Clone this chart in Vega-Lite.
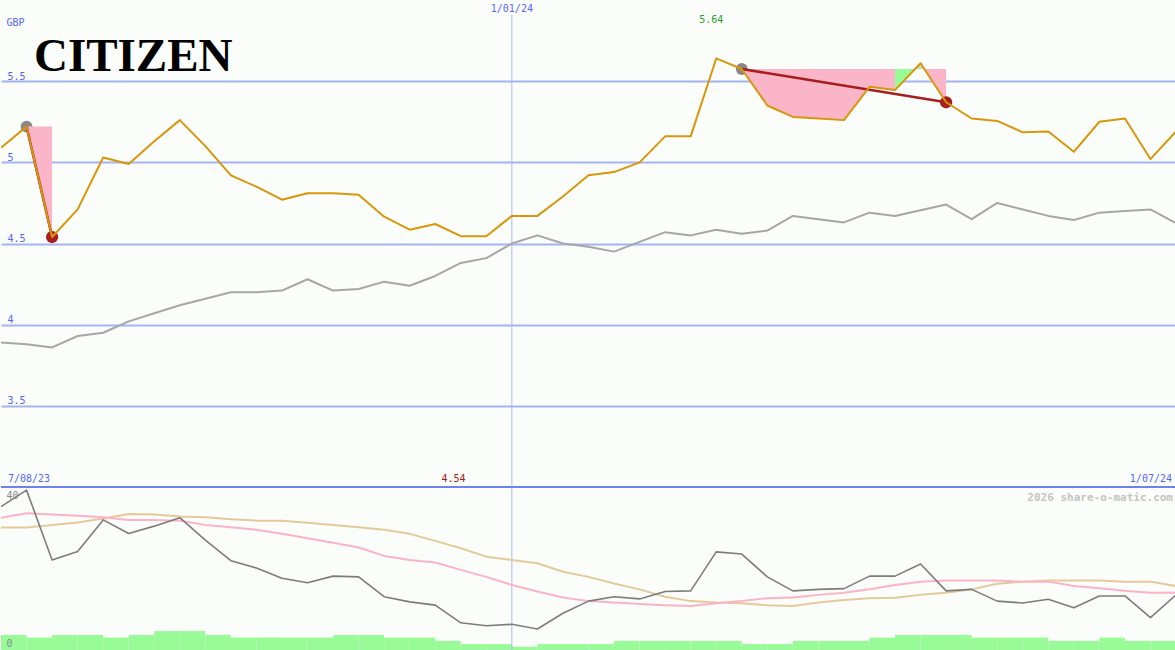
{
  "$schema": "https://vega.github.io/schema/vega-lite/v6.json",
  "background": "#fbfdfb",
  "padding": 0,
  "spacing": 0,
  "bounds": "flush",
  "config": {"view": {"stroke": null}, "concat": {"spacing": 0}, "line": {"strokeJoin": "round"}},
  "datasets": {
    "w": [
      {"d":"2023-08-14","e":"2023-08-21","p":5.09,"a":3.89,"o":39.0,"m1":36.0,"m2":33.3,"v":46},
      {"d":"2023-08-21","e":"2023-08-28","p":5.22,"a":3.88,"o":43.5,"m1":37.2,"m2":33.3,"v":38},
      {"d":"2023-08-28","e":"2023-09-04","p":4.54,"a":3.86,"o":24.5,"m1":36.9,"m2":34.0,"v":46},
      {"d":"2023-09-04","e":"2023-09-11","p":4.71,"a":3.93,"o":26.8,"m1":36.5,"m2":34.7,"v":46},
      {"d":"2023-09-11","e":"2023-09-18","p":5.03,"a":3.95,"o":35.4,"m1":36.1,"m2":35.8,"v":38},
      {"d":"2023-09-18","e":"2023-09-25","p":4.99,"a":4.02,"o":31.7,"m1":35.4,"m2":37.0,"v":46},
      {"d":"2023-09-25","e":"2023-10-02","p":5.13,"a":4.07,"o":33.7,"m1":35.4,"m2":36.9,"v":58},
      {"d":"2023-10-02","e":"2023-10-09","p":5.26,"a":4.12,"o":36.0,"m1":35.2,"m2":36.3,"v":58},
      {"d":"2023-10-09","e":"2023-10-16","p":5.10,"a":4.16,"o":29.9,"m1":34.0,"m2":36.1,"v":46},
      {"d":"2023-10-16","e":"2023-10-23","p":4.92,"a":4.20,"o":24.3,"m1":33.4,"m2":35.6,"v":38},
      {"d":"2023-10-23","e":"2023-10-30","p":4.85,"a":4.20,"o":22.3,"m1":32.7,"m2":35.2,"v":38},
      {"d":"2023-10-30","e":"2023-11-06","p":4.77,"a":4.21,"o":19.5,"m1":31.6,"m2":35.2,"v":38},
      {"d":"2023-11-06","e":"2023-11-13","p":4.81,"a":4.28,"o":18.3,"m1":30.4,"m2":34.6,"v":38},
      {"d":"2023-11-13","e":"2023-11-20","p":4.81,"a":4.21,"o":20.1,"m1":29.2,"m2":34.0,"v":46},
      {"d":"2023-11-20","e":"2023-11-27","p":4.80,"a":4.22,"o":19.9,"m1":27.9,"m2":33.4,"v":46},
      {"d":"2023-11-27","e":"2023-12-04","p":4.665,"a":4.265,"o":14.5,"m1":25.6,"m2":32.7,"v":38},
      {"d":"2023-12-04","e":"2023-12-11","p":4.585,"a":4.24,"o":13.1,"m1":24.5,"m2":31.6,"v":38},
      {"d":"2023-12-11","e":"2023-12-18","p":4.62,"a":4.30,"o":12.2,"m1":23.8,"m2":29.7,"v":28},
      {"d":"2023-12-18","e":"2023-12-25","p":4.545,"a":4.38,"o":7.4,"m1":21.8,"m2":27.7,"v":18},
      {"d":"2023-12-25","e":"2024-01-01","p":4.545,"a":4.41,"o":6.6,"m1":19.9,"m2":25.4,"v":18},
      {"d":"2024-01-01","e":"2024-01-08","p":4.67,"a":4.50,"o":7.0,"m1":17.7,"m2":24.5,"v":10},
      {"d":"2024-01-08","e":"2024-01-15","p":4.67,"a":4.55,"o":5.7,"m1":15.9,"m2":23.6,"v":18},
      {"d":"2024-01-15","e":"2024-01-22","p":4.79,"a":4.50,"o":10.0,"m1":14.3,"m2":21.3,"v":18},
      {"d":"2024-01-22","e":"2024-01-29","p":4.92,"a":4.48,"o":13.3,"m1":13.3,"m2":19.9,"v":18},
      {"d":"2024-01-29","e":"2024-02-05","p":4.94,"a":4.45,"o":14.5,"m1":12.9,"m2":18.1,"v":28},
      {"d":"2024-02-05","e":"2024-02-12","p":5.00,"a":4.51,"o":13.9,"m1":12.5,"m2":16.5,"v":28},
      {"d":"2024-02-12","e":"2024-02-19","p":5.16,"a":4.57,"o":15.9,"m1":12.2,"m2":14.5,"v":28},
      {"d":"2024-02-19","e":"2024-02-26","p":5.16,"a":4.55,"o":16.1,"m1":12.0,"m2":13.3,"v":28},
      {"d":"2024-02-26","e":"2024-03-04","p":5.64,"a":4.585,"o":26.7,"m1":12.7,"m2":12.9,"v":28},
      {"d":"2024-03-04","e":"2024-03-11","p":5.575,"a":4.56,"o":26.1,"m1":13.3,"m2":12.7,"v":18},
      {"d":"2024-03-11","e":"2024-03-18","p":5.35,"a":4.58,"o":19.9,"m1":14.1,"m2":12.2,"v":18},
      {"d":"2024-03-18","e":"2024-03-25","p":5.28,"a":4.67,"o":16.1,"m1":14.3,"m2":12.0,"v":28},
      {"d":"2024-03-25","e":"2024-04-01","p":5.27,"a":4.65,"o":16.5,"m1":15.0,"m2":12.9,"v":28},
      {"d":"2024-04-01","e":"2024-04-08","p":5.26,"a":4.63,"o":16.7,"m1":15.6,"m2":13.6,"v":28},
      {"d":"2024-04-08","e":"2024-04-15","p":5.465,"a":4.69,"o":20.1,"m1":16.5,"m2":14.1,"v":38},
      {"d":"2024-04-15","e":"2024-04-22","p":5.445,"a":4.67,"o":20.1,"m1":17.7,"m2":14.2,"v":46},
      {"d":"2024-04-22","e":"2024-04-29","p":5.61,"a":4.705,"o":23.4,"m1":18.6,"m2":15.0,"v":46},
      {"d":"2024-04-29","e":"2024-05-06","p":5.37,"a":4.74,"o":16.1,"m1":18.9,"m2":15.6,"v":46},
      {"d":"2024-05-06","e":"2024-05-13","p":5.27,"a":4.65,"o":16.5,"m1":18.9,"m2":16.5,"v":38},
      {"d":"2024-05-13","e":"2024-05-20","p":5.255,"a":4.75,"o":13.3,"m1":18.9,"m2":18.0,"v":38},
      {"d":"2024-05-20","e":"2024-05-27","p":5.185,"a":4.71,"o":12.8,"m1":18.6,"m2":18.6,"v":38},
      {"d":"2024-05-27","e":"2024-06-03","p":5.19,"a":4.67,"o":13.8,"m1":18.6,"m2":18.9,"v":28},
      {"d":"2024-06-03","e":"2024-06-10","p":5.065,"a":4.645,"o":11.5,"m1":17.4,"m2":18.9,"v":28},
      {"d":"2024-06-10","e":"2024-06-17","p":5.25,"a":4.69,"o":14.7,"m1":16.8,"m2":18.9,"v":38},
      {"d":"2024-06-17","e":"2024-06-24","p":5.27,"a":4.70,"o":14.7,"m1":16.1,"m2":18.6,"v":28},
      {"d":"2024-06-24","e":"2024-07-01","p":5.02,"a":4.71,"o":8.8,"m1":15.6,"m2":18.6,"v":28},
      {"d":"2024-07-01","e":null,"p":5.19,"a":4.625,"o":15.0,"m1":15.6,"m2":17.4,"v":null}
    ],
    "zones": [
      {"d":"2023-08-21","p":5.22,"l":5.22,"z":"a"},
      {"d":"2023-08-28","p":4.54,"l":5.22,"z":"a"},
      {"d":"2024-03-04","p":5.575,"l":5.575,"z":"b"},
      {"d":"2024-03-11","p":5.35,"l":5.575,"z":"b"},
      {"d":"2024-03-18","p":5.28,"l":5.575,"z":"b"},
      {"d":"2024-03-25","p":5.27,"l":5.575,"z":"b"},
      {"d":"2024-04-01","p":5.26,"l":5.575,"z":"b"},
      {"d":"2024-04-08","p":5.465,"l":5.575,"z":"b"},
      {"d":"2024-04-15","p":5.445,"l":5.575,"z":"b"},
      {"d":"2024-04-15","p":5.445,"l":5.575,"z":"g"},
      {"d":"2024-04-22","p":5.61,"l":5.575,"z":"g"},
      {"d":"2024-04-22","p":5.61,"l":5.575,"z":"c"},
      {"d":"2024-04-29","p":5.37,"l":5.575,"z":"c"}
    ],
    "trends": [
      {"d":"2023-08-21","p":5.22,"t":"a","k":"start"},
      {"d":"2023-08-28","p":4.54,"t":"a","k":"end"},
      {"d":"2024-03-04","p":5.575,"t":"b","k":"start"},
      {"d":"2024-04-29","p":5.37,"t":"b","k":"end"}
    ],
    "notes": [
      {"d":"2024-01-01","t":"1/01/24","k":"jan"},
      {"d":"2024-02-26","t":"5.64","k":"hi"},
      {"d":"2023-12-16","t":"4.54","k":"lo"},
      {"d":"2023-08-14","t":"7/08/23","k":"from"},
      {"d":"2024-07-01","t":"1/07/24","k":"to"},
      {"d":"2023-08-14","t":"CITIZEN","k":"name"},
      {"d":"2024-07-01","t":"2026 share-o-matic.com","k":"credit"}
    ]
  },
  "vconcat": [
    {
      "width": 1175,
      "height": 487,
      "layer": [
        {
          "data": {"name": "notes"},
          "transform": [{"filter": "datum.k == 'jan'"}],
          "mark": {"type": "rule", "color": "#a9b7f2", "strokeWidth": 1},
          "encoding": {
            "x": {"field": "d", "type": "temporal", "axis": null, "scale": {"type": "utc", "domain": [{"year":2023,"month":8,"date":14,"utc":true},{"year":2024,"month":7,"date":1,"utc":true}]}},
            "y": {"datum": 5.91, "type": "quantitative", "scale": {"domain": [3, 6], "nice": false, "zero": false}},
            "y2": {"datum": 3}
          }
        },
        {
          "data": {"name": "w"},
          "mark": {"type": "line", "color": "#a6a6a6", "strokeWidth": 2, "clip": true},
          "encoding": {
            "x": {"field": "d", "type": "temporal", "axis": null, "scale": {"type": "utc", "domain": [{"year":2023,"month":8,"date":14,"utc":true},{"year":2024,"month":7,"date":1,"utc":true}]}},
            "y": {"field": "a", "type": "quantitative",
                  "scale": {"domain": [3, 6], "nice": false, "zero": false},
                  "axis": {"values": [3.5, 4, 4.5, 5, 5.5], "format": "~g", "domain": false, "ticks": false, "tickSize": 0,
                           "grid": true, "gridColor": "#a4b3f3", "gridWidth": 2, "gridOpacity": 1,
                           "labelAlign": "left", "labelBaseline": "bottom", "labelPadding": -6,
                           "labelColor": "#5566ff", "labelFont": "DejaVu Sans Mono", "labelFontSize": 10,
                           "title": "GBP", "titleAngle": 0, "titleAlign": "left", "titleBaseline": "alphabetic",
                           "titleX": 5, "titleY": 25, "titleColor": "#5566ff", "titleFont": "DejaVu Sans Mono",
                           "titleFontSize": 10, "titleFontWeight": "normal"}}
          }
        },
        {
          "data": {"name": "trends"},
          "transform": [{"filter": "datum.k == 'start'"}],
          "mark": {"type": "circle", "size": 140, "color": "#888888", "opacity": 1},
          "encoding": {
            "x": {"field": "d", "type": "temporal", "axis": null, "scale": {"type": "utc", "domain": [{"year":2023,"month":8,"date":14,"utc":true},{"year":2024,"month":7,"date":1,"utc":true}]}},
            "y": {"field": "p", "type": "quantitative", "scale": {"domain": [3, 6], "nice": false, "zero": false}}
          }
        },
        {
          "data": {"name": "zones"},
          "mark": {"type": "area", "opacity": 1},
          "encoding": {
            "x": {"field": "d", "type": "temporal", "axis": null, "scale": {"type": "utc", "domain": [{"year":2023,"month":8,"date":14,"utc":true},{"year":2024,"month":7,"date":1,"utc":true}]}},
            "y": {"field": "l", "type": "quantitative", "scale": {"domain": [3, 6], "nice": false, "zero": false}},
            "y2": {"field": "p"},
            "color": {"field": "z", "type": "nominal", "legend": null,
                      "scale": {"domain": ["a", "b", "g", "c"], "range": ["#fab5c9", "#fab5c9", "#98fb98", "#fab5c9"]}}
          }
        },
        {
          "data": {"name": "trends"},
          "transform": [{"filter": "datum.k == 'end'"}],
          "mark": {"type": "circle", "size": 150, "color": "#a81e1e", "opacity": 1},
          "encoding": {
            "x": {"field": "d", "type": "temporal", "axis": null, "scale": {"type": "utc", "domain": [{"year":2023,"month":8,"date":14,"utc":true},{"year":2024,"month":7,"date":1,"utc":true}]}},
            "y": {"field": "p", "type": "quantitative", "scale": {"domain": [3, 6], "nice": false, "zero": false}}
          }
        },
        {
          "data": {"name": "trends"},
          "mark": {"type": "line", "color": "#a51d1d", "strokeWidth": 2.5, "clip": true},
          "encoding": {
            "x": {"field": "d", "type": "temporal", "axis": null, "scale": {"type": "utc", "domain": [{"year":2023,"month":8,"date":14,"utc":true},{"year":2024,"month":7,"date":1,"utc":true}]}},
            "y": {"field": "p", "type": "quantitative", "scale": {"domain": [3, 6], "nice": false, "zero": false}},
            "detail": {"field": "t"}
          }
        },
        {
          "data": {"name": "w"},
          "mark": {"type": "line", "color": "#d9960b", "strokeWidth": 2, "clip": true},
          "encoding": {
            "x": {"field": "d", "type": "temporal", "axis": null, "scale": {"type": "utc", "domain": [{"year":2023,"month":8,"date":14,"utc":true},{"year":2024,"month":7,"date":1,"utc":true}]}},
            "y": {"field": "p", "type": "quantitative", "scale": {"domain": [3, 6], "nice": false, "zero": false}}
          }
        },
        {
          "data": {"name": "notes"},
          "transform": [{"filter": "datum.k == 'name'"}],
          "mark": {"type": "text", "font": "Liberation Serif", "fontWeight": "bold", "fontSize": 47, "color": "#000000", "align": "left", "baseline": "alphabetic", "dx": 33},
          "encoding": {
            "x": {"field": "d", "type": "temporal", "axis": null, "scale": {"type": "utc", "domain": [{"year":2023,"month":8,"date":14,"utc":true},{"year":2024,"month":7,"date":1,"utc":true}]}},
            "y": {"datum": 5.565, "type": "quantitative", "scale": {"domain": [3, 6], "nice": false, "zero": false}},
            "text": {"field": "t"}
          }
        },
        {
          "data": {"name": "notes"},
          "transform": [{"filter": "datum.k == 'jan'"}],
          "mark": {"type": "text", "font": "DejaVu Sans Mono", "fontSize": 10, "color": "#5566ff", "align": "center", "baseline": "top", "dy": 4},
          "encoding": {
            "x": {"field": "d", "type": "temporal", "axis": null, "scale": {"type": "utc", "domain": [{"year":2023,"month":8,"date":14,"utc":true},{"year":2024,"month":7,"date":1,"utc":true}]}},
            "y": {"datum": 6, "type": "quantitative", "scale": {"domain": [3, 6], "nice": false, "zero": false}},
            "text": {"field": "t"}
          }
        },
        {
          "data": {"name": "notes"},
          "transform": [{"filter": "datum.k == 'hi'"}],
          "mark": {"type": "text", "font": "DejaVu Sans Mono", "fontSize": 10, "color": "#1e9e1e", "align": "center", "baseline": "top", "dy": 15, "dx": -5},
          "encoding": {
            "x": {"field": "d", "type": "temporal", "axis": null, "scale": {"type": "utc", "domain": [{"year":2023,"month":8,"date":14,"utc":true},{"year":2024,"month":7,"date":1,"utc":true}]}},
            "y": {"datum": 6, "type": "quantitative", "scale": {"domain": [3, 6], "nice": false, "zero": false}},
            "text": {"field": "t"}
          }
        },
        {
          "data": {"name": "notes"},
          "transform": [{"filter": "datum.k == 'lo'"}],
          "mark": {"type": "text", "font": "DejaVu Sans Mono", "fontSize": 10, "color": "#a01a1a", "align": "center", "baseline": "bottom", "dy": -3},
          "encoding": {
            "x": {"field": "d", "type": "temporal", "axis": null, "scale": {"type": "utc", "domain": [{"year":2023,"month":8,"date":14,"utc":true},{"year":2024,"month":7,"date":1,"utc":true}]}},
            "y": {"datum": 3, "type": "quantitative", "scale": {"domain": [3, 6], "nice": false, "zero": false}},
            "text": {"field": "t"}
          }
        },
        {
          "data": {"name": "notes"},
          "transform": [{"filter": "datum.k == 'from'"}],
          "mark": {"type": "text", "font": "DejaVu Sans Mono", "fontSize": 10, "color": "#5566ff", "align": "left", "baseline": "bottom", "dy": -3, "dx": 7},
          "encoding": {
            "x": {"field": "d", "type": "temporal", "axis": null, "scale": {"type": "utc", "domain": [{"year":2023,"month":8,"date":14,"utc":true},{"year":2024,"month":7,"date":1,"utc":true}]}},
            "y": {"datum": 3, "type": "quantitative", "scale": {"domain": [3, 6], "nice": false, "zero": false}},
            "text": {"field": "t"}
          }
        },
        {
          "data": {"name": "notes"},
          "transform": [{"filter": "datum.k == 'to'"}],
          "mark": {"type": "text", "font": "DejaVu Sans Mono", "fontSize": 10, "color": "#5566ff", "align": "right", "baseline": "bottom", "dy": -3, "dx": -4},
          "encoding": {
            "x": {"field": "d", "type": "temporal", "axis": null, "scale": {"type": "utc", "domain": [{"year":2023,"month":8,"date":14,"utc":true},{"year":2024,"month":7,"date":1,"utc":true}]}},
            "y": {"datum": 3, "type": "quantitative", "scale": {"domain": [3, 6], "nice": false, "zero": false}},
            "text": {"field": "t"}
          }
        }
      ]
    },
    {
      "width": 1175,
      "height": 163,
      "resolve": {"scale": {"y": "independent"}},
      "layer": [
        {
          "data": {"name": "w"},
          "transform": [{"filter": "datum.v != null"}],
          "mark": {"type": "rect", "color": "#98fb98", "opacity": 1},
          "encoding": {
            "x": {"field": "d", "type": "temporal", "axis": null, "scale": {"type": "utc", "domain": [{"year":2023,"month":8,"date":14,"utc":true},{"year":2024,"month":7,"date":1,"utc":true}]}},
            "x2": {"field": "e"},
            "y": {"field": "v", "type": "quantitative", "axis": null, "scale": {"domain": [0, 500], "nice": false}},
            "y2": {"datum": 0}
          }
        },
        {
          "layer": [
            {
              "data": {"name": "notes"},
              "transform": [{"filter": "datum.k == 'jan'"}],
              "mark": {"type": "rule", "color": "#a9b7f2", "strokeWidth": 1},
              "encoding": {
                "x": {"field": "d", "type": "temporal", "axis": null, "scale": {"type": "utc", "domain": [{"year":2023,"month":8,"date":14,"utc":true},{"year":2024,"month":7,"date":1,"utc":true}]}}
              }
            },
            {
              "data": {"name": "w"},
              "mark": {"type": "line", "color": "#e4ca9a", "strokeWidth": 2, "clip": true},
              "encoding": {
                "x": {"field": "d", "type": "temporal", "axis": null, "scale": {"type": "utc", "domain": [{"year":2023,"month":8,"date":14,"utc":true},{"year":2024,"month":7,"date":1,"utc":true}]}},
                "y": {"field": "m2", "type": "quantitative", "scale": {"domain": [0, 44.35], "nice": false, "zero": false}}
              }
            },
            {
              "data": {"name": "w"},
              "mark": {"type": "line", "color": "#fdb3c6", "strokeWidth": 2, "clip": true},
              "encoding": {
                "x": {"field": "d", "type": "temporal", "axis": null, "scale": {"type": "utc", "domain": [{"year":2023,"month":8,"date":14,"utc":true},{"year":2024,"month":7,"date":1,"utc":true}]}},
                "y": {"field": "m1", "type": "quantitative", "scale": {"domain": [0, 44.35], "nice": false, "zero": false}}
              }
            },
            {
              "data": {"name": "w"},
              "mark": {"type": "line", "color": "#7c7c7c", "strokeWidth": 1.6, "clip": true},
              "encoding": {
                "x": {"field": "d", "type": "temporal", "axis": null, "scale": {"type": "utc", "domain": [{"year":2023,"month":8,"date":14,"utc":true},{"year":2024,"month":7,"date":1,"utc":true}]}},
                "y": {"field": "o", "type": "quantitative",
                      "scale": {"domain": [0, 44.35], "nice": false, "zero": false},
                      "axis": {"values": [0, 40], "domain": false, "ticks": false, "tickSize": 0, "grid": false, "zindex": 1,
                               "labelAlign": "left", "labelBaseline": "bottom", "labelPadding": -5, "labelOffset": -2,
                               "labelColor": "#888888", "labelFont": "DejaVu Sans Mono", "labelFontSize": 10,
                               "labelOverlap": false, "labelBound": false, "title": null}}
              }
            },
            {
              "data": {"name": "notes"},
              "transform": [{"filter": "datum.k == 'jan'"}],
              "mark": {"type": "rule", "color": "#7080ee", "strokeWidth": 2},
              "encoding": {
                "y": {"datum": 44.35, "type": "quantitative", "scale": {"domain": [0, 44.35], "nice": false, "zero": false}}
              }
            },
            {
              "data": {"name": "notes"},
              "transform": [{"filter": "datum.k == 'credit'"}],
              "mark": {"type": "text", "font": "DejaVu Sans Mono", "fontWeight": "bold", "fontSize": 11, "color": "#c4c4c4", "align": "right", "baseline": "top", "dy": 5, "dx": -3},
              "encoding": {
                "x": {"field": "d", "type": "temporal", "axis": null, "scale": {"type": "utc", "domain": [{"year":2023,"month":8,"date":14,"utc":true},{"year":2024,"month":7,"date":1,"utc":true}]}},
                "y": {"datum": 44.35, "type": "quantitative", "scale": {"domain": [0, 44.35], "nice": false, "zero": false}},
                "text": {"field": "t"}
              }
            }
          ]
        }
      ]
    }
  ]
}
